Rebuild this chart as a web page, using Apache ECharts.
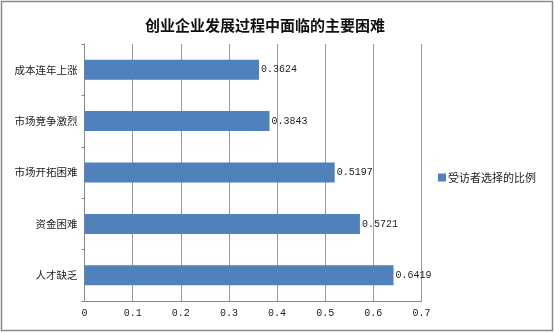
<!DOCTYPE html>
<html>
<head>
<meta charset="utf-8">
<script src="https://cdn.jsdelivr.net/npm/echarts@6/dist/echarts.min.js"></script>
<style>
  html, body { margin: 0; padding: 0; background: #fff; }
  #chart { width: 555px; height: 333px; }
</style>
</head>
<body>
<div id="chart"></div>
<script>
// Categories listed bottom-to-top (ECharts category y-axis starts at the bottom)
const categories = ['人才缺乏', '资金困难', '市场开拓困难', '市场竞争激烈', '成本连年上涨'];
const shares = [0.6419, 0.5721, 0.5197, 0.3843, 0.3624];
const seriesName = '受访者选择的比例';
const titleText = '创业企业发展过程中面临的主要困难';

const cjk = '"Noto Sans CJK SC", "Noto Sans", sans-serif';
const mono = '"Liberation Mono", "DejaVu Sans Mono", monospace';

const chart = echarts.init(document.getElementById('chart'), null, { renderer: 'canvas' });
chart.setOption({
  animation: false,
  backgroundColor: '#ffffff',
  title: {
    text: titleText,
    left: 260,
    textAlign: 'center',
    top: 13,
    textStyle: { fontFamily: cjk, fontSize: 15, fontWeight: 'bold', color: '#111' }
  },
  legend: {
    left: 433,
    top: 167,
    itemWidth: 8,
    itemHeight: 8,
    itemGap: 4,
    icon: 'rect',
    textStyle: { fontFamily: cjk, fontSize: 11, color: '#222', padding: [0, 0, 0, -3] },
    data: [seriesName]
  },
  grid: { left: 84.5, right: 133.5, top: 44, bottom: 32, containLabel: false },
  xAxis: {
    type: 'value',
    min: 0,
    max: 0.7,
    interval: 0.1,
    axisLine: { show: true, lineStyle: { color: '#888', width: 1 } },
    axisTick: { show: false },
    splitLine: { show: true, lineStyle: { color: '#999', width: 1 } },
    axisLabel: {
      fontFamily: mono,
      fontSize: 10,
      color: '#222',
      margin: 7,
      formatter: v => (Math.round(v * 10) / 10).toString()
    }
  },
  yAxis: {
    type: 'category',
    data: categories,
    axisLine: { show: true, lineStyle: { color: '#888', width: 1 } },
    axisTick: { show: true, length: 3, inside: false, lineStyle: { color: '#888' } },
    axisLabel: { fontFamily: cjk, fontSize: 10.5, color: '#222', margin: 7 }
  },
  series: [{
    name: seriesName,
    type: 'bar',
    data: shares,
    barWidth: 20,
    itemStyle: { color: '#4f81bd' },
    label: {
      show: true,
      position: 'right',
      distance: 2,
      fontFamily: mono,
      fontSize: 10,
      color: '#222',
      formatter: p => p.value.toFixed(4)
    }
  }],
  graphic: [{
    type: 'rect',
    shape: { x: 1.5, y: 1.5, width: 551, height: 329 },
    style: { fill: 'none', stroke: '#8a8a8a', lineWidth: 1.5 },
    silent: true,
    z: 100
  }]
});
</script>
</body>
</html>
